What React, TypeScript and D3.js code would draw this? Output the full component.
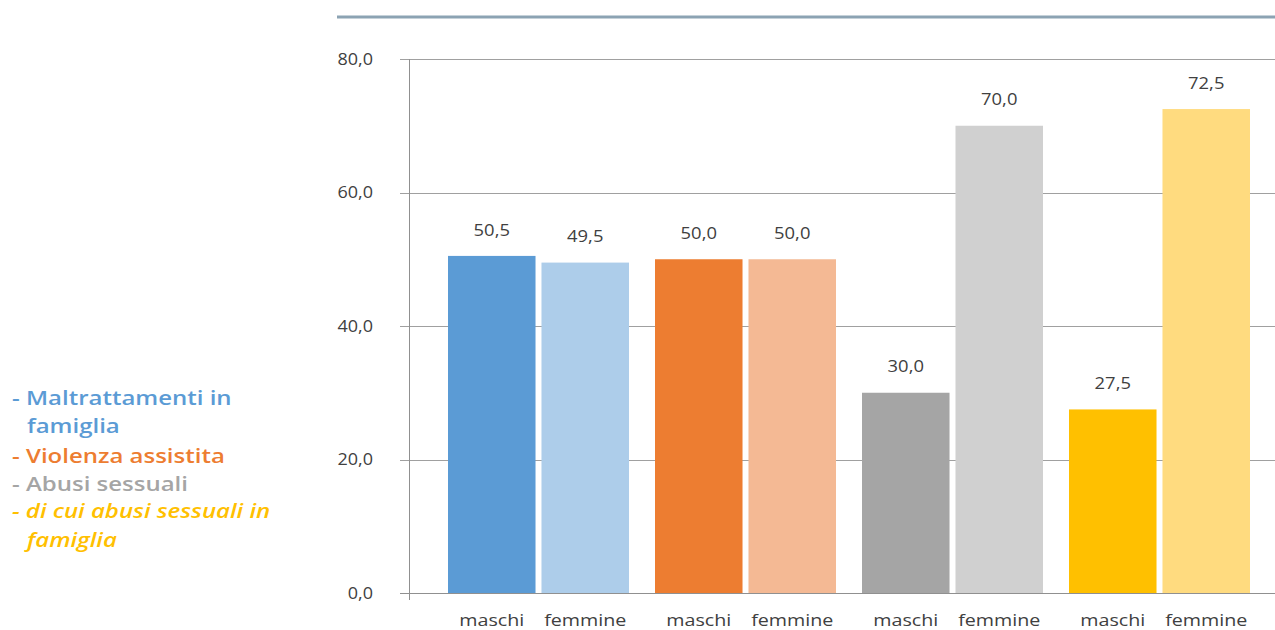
import React from "react";
import * as d3 from "d3";

const groups = ["Maltrattamenti in famiglia", "Violenza assistita", "Abusi sessuali", "di cui abusi sessuali in famiglia"];
const sexes = ["maschi", "femmine"];
const maschiValues = [50.5, 50.0, 30.0, 27.5];
const femmineValues = [49.5, 50.0, 70.0, 72.5];
const yTicks = [0, 20, 40, 60, 80];
const darkColors = ["#5b9bd5", "#ed7d31", "#a5a5a5", "#ffc000"];
const lightColors = ["#adcdea", "#f4b994", "#d0d0d0", "#ffdb7f"];
const legendLines = [
  { text: "- Maltrattamenti in", color: "#5b9bd5", italic: false, indent: false },
  { text: "famiglia", color: "#5b9bd5", italic: false, indent: true },
  { text: "- Violenza assistita", color: "#ed7d31", italic: false, indent: false },
  { text: "- Abusi sessuali", color: "#a5a5a5", italic: false, indent: false },
  { text: "- di cui abusi sessuali in", color: "#ffc000", italic: true, indent: false },
  { text: "famiglia", color: "#ffc000", italic: true, indent: true },
];

const fmt = (v: number) => v.toFixed(1).replace(".", ",");
const font = "'Open Sans', 'DejaVu Sans', sans-serif";

function SText(props: {
  x: number; y: number; sx: number; size: number; anchor?: string; fill: string;
  weight?: number; italic?: boolean; children: React.ReactNode;
}) {
  return (
    <text
      transform={`translate(${props.x},${props.y}) scale(${props.sx},1)`}
      dy="0.35em"
      textAnchor={props.anchor || "start"}
      fontFamily={font}
      fontSize={props.size}
      fontWeight={props.weight || 400}
      fontStyle={props.italic ? "italic" : "normal"}
      fill={props.fill}
    >
      {props.children}
    </text>
  );
}

export default function App() {
  const W = 1275, H = 630;
  const axisX = 409;
  const y = d3.scaleLinear().domain([0, 80]).range([593, 59]);
  const x0 = d3.scaleBand<string>().domain(groups).range([435, 1263]).paddingInner(0);
  const x1 = d3.scaleBand<string>().domain(sexes).range([13, 194]).paddingInner(6 / 94).paddingOuter(0);
  const legendY = [398, 426, 456, 484, 511, 540];

  return (
    <svg width={W} height={H} style={{ position: "absolute", left: 0, top: 0, background: "#fff" }}>
      <rect x={0} y={0} width={W} height={H} fill="#fff" />
      <line x1={337} x2={W} y1={17} y2={17} stroke="#8ca3b3" strokeWidth={3} />
      {yTicks.map((t) => (
        <g key={t}>
          <line x1={400} x2={W} y1={Math.round(y(t)) + 0.5} y2={Math.round(y(t)) + 0.5} stroke={t === 0 ? "#909090" : "#a0a0a0"} strokeWidth={1} />
          <SText x={373} y={y(t)} sx={1.06} size={17} anchor="end" fill="#404040">
            {fmt(t)}
          </SText>
        </g>
      ))}
      <line x1={axisX + 0.5} x2={axisX + 0.5} y1={y(80)} y2={600} stroke="#909090" strokeWidth={1} />
      {groups.map((g, gi) => {
        const vals = [maschiValues[gi], femmineValues[gi]];
        const cols = [darkColors[gi], lightColors[gi]];
        return (
          <g key={g} transform={`translate(${x0(g)},0)`}>
            {sexes.map((s, si) => {
              const bx = x1(s)!;
              const bw = x1.bandwidth();
              const v = vals[si];
              return (
                <g key={s}>
                  <rect x={bx} y={y(v)} width={bw} height={y(0) - y(v)} fill={cols[si]} />
                  <SText x={bx + bw / 2} y={y(v) - 26} sx={1.15} size={16} anchor="middle" fill="#404040">
                    {fmt(v)}
                  </SText>
                  <SText x={bx + bw / 2} y={620} sx={1.23} size={16} anchor="middle" fill="#404040">
                    {s}
                  </SText>
                </g>
              );
            })}
          </g>
        );
      })}
      {legendLines.map((l, i) => (
        <SText
          key={i}
          x={l.indent ? 27 : 12}
          y={legendY[i]}
          sx={1.2}
          size={20}
          weight={600}
          italic={l.italic}
          fill={l.color}
        >
          {l.text}
        </SText>
      ))}
    </svg>
  );
}
